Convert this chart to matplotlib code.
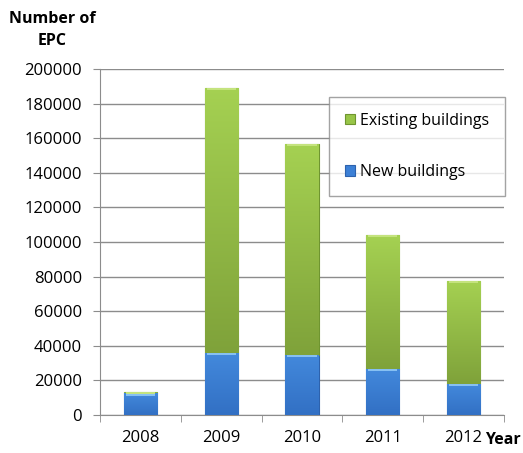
import matplotlib
matplotlib.use("Agg")
import matplotlib.pyplot as plt
from matplotlib.colors import LinearSegmentedColormap
import numpy as np

# EPCs issued per year
years = ["2008", "2009", "2010", "2011", "2012"]
new_buildings = [12500, 35800, 34700, 26600, 17900]
existing_buildings = [800, 153200, 121900, 77400, 59600]

plt.rcParams['font.family'] = ['Open Sans', 'DejaVu Sans']

fig = plt.figure(figsize=(5.23, 4.53), dpi=100)
ax = fig.add_axes([100/523, 38/453, 404/523, 346/453])

x = np.arange(len(years))
w = 0.41
blue_bars = ax.bar(x, new_buildings, w, color='#3c80d6', edgecolor='#2d62ad',
                   linewidth=0.8, label='New buildings', zorder=3)
green_bars = ax.bar(x, existing_buildings, w, bottom=new_buildings, color='#98c548',
                    edgecolor='#6f9530', linewidth=0.8, label='Existing buildings',
                    zorder=3)

# vertical shading inside each segment, clipped to the bar
blue_cm = LinearSegmentedColormap.from_list('b', ['#3270c4', '#4389dc'])
green_cm = LinearSegmentedColormap.from_list('g', ['#7fa23a', '#a5d152'])
grad = np.linspace(0, 1, 256).reshape(-1, 1)
for bars, cm in [(blue_bars, blue_cm), (green_bars, green_cm)]:
    for p in bars:
        x0, y0 = p.get_x(), p.get_y()
        im = ax.imshow(grad, cmap=cm, origin='lower', aspect='auto',
                       extent=[x0, x0 + p.get_width(), y0, y0 + p.get_height()],
                       zorder=3.5)
        im.set_clip_path(p)

# light bevel along the top of each segment
tops_new = np.array(new_buildings)
tops_all = tops_new + np.array(existing_buildings)
ax.bar(x, 1100, w * 0.88, bottom=tops_new - 1300, color='#86c0f2', linewidth=0, zorder=4)
ax.bar(x, 1100, w * 0.88, bottom=tops_all - 1300, color='#c4e37e', linewidth=0, zorder=4)

ax.set_xlim(-0.5, 4.5)
ax.set_ylim(0, 200000)
ax.set_yticks(np.arange(0, 200001, 20000))
ax.set_yticklabels([str(v) for v in range(0, 200001, 20000)], fontsize=12)
ax.yaxis.grid(True, color='#8c8c8c', linewidth=1, zorder=0)
ax.tick_params(axis='y', length=5, color='#8c8c8c', pad=8)

ax.set_xticks(x)
ax.set_xticklabels(years, fontsize=12)
ax.set_xticks(np.arange(-0.5, 5, 1), minor=True)
ax.tick_params(axis='x', which='major', length=0, pad=11)
ax.tick_params(axis='x', which='minor', length=5, color='#8c8c8c')

for s in ['top', 'right']:
    ax.spines[s].set_visible(False)
for s in ['left', 'bottom']:
    ax.spines[s].set_color('#8c8c8c')

fig.text(52/523, 1 - 30/453, "Number of\nEPC", fontsize=11.5, fontweight='bold',
         ha='center', va='center', linespacing=1.55)
fig.text(485/523, 1 - 440/453, "Year", fontsize=11.5, fontweight='bold',
         ha='left', va='center')

handles, labels = ax.get_legend_handles_labels()
leg = ax.legend(handles[::-1], labels[::-1], loc='upper left',
                bbox_to_anchor=(329/523, 1 - 97/453), bbox_transform=fig.transFigure,
                fontsize=11.5, frameon=True, fancybox=False, edgecolor='#8c8c8c',
                handlelength=0.6, handleheight=0.6, handletextpad=0.35,
                labelspacing=2.2, borderpad=1.0, borderaxespad=0)
leg.get_frame().set_linewidth(1)

fig.savefig("out.png", dpi=100)
